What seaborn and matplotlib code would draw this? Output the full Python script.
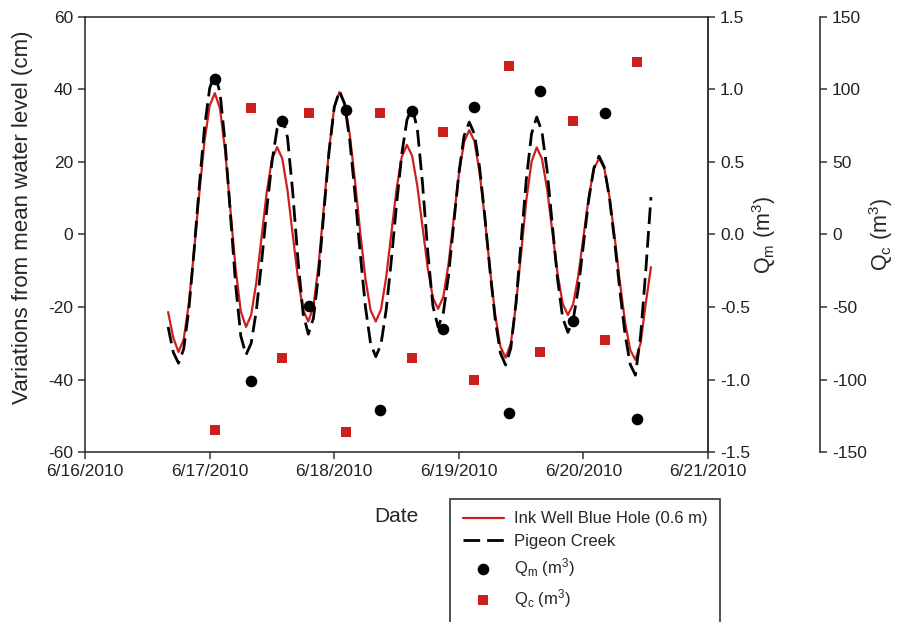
import pandas as pd
import numpy as np
import matplotlib
matplotlib.use("Agg")
import matplotlib.pyplot as plt
import matplotlib.dates as mdates
from matplotlib.ticker import FormatStrFormatter, MultipleLocator
from matplotlib.lines import Line2D
import seaborn as sns

# hourly readings, hours counted from 6/16/2010 00:00
hours = list(range(16, 110))

ink_well = [
    -21.4, -28.5, -32.4, -28.9, -19.0, -4.6, 11.2, 25.6, 35.5, 39.0,
    34.7, 22.9, 6.8, -9.4, -21.2, -25.5, -22.2, -13.1, -0.7, 11.7,
    20.8, 24.1, 20.9, 12.1, 0.0, -12.0, -20.8, -24.0, -19.8, -8.2,
    7.7, 23.5, 35.1, 39.3, 36.2, 27.4, 14.7, 0.6, -12.1, -20.9,
    -24.0, -20.7, -11.8, 0.4, 12.5, 21.4, 24.7, 21.7, 13.4, 2.1,
    -9.2, -17.5, -20.5, -17.2, -8.2, 4.2, 16.5, 25.5, 28.8, 25.7,
    17.0, 4.4, -9.6, -22.2, -30.9, -34.0, -30.1, -19.5, -5.0, 9.5,
    20.1, 24.0, 20.9, 12.5, 0.9, -10.7, -19.1, -22.2, -19.3, -11.4,
    -0.6, 10.2, 18.1, 21.0, 18.3, 10.5, -0.6, -13.0, -24.1, -31.8,
    -34.6, -30.0, -19.0, -9.0,
]

pigeon_creek = [
    -25.5, -32.5, -35.5, -31.6, -20.5, -4.5, 13.3, 29.3, 40.3, 44.3,
    39.1, 24.9, 5.6, -13.8, -28.0, -33.2, -30.0, -20.9, -7.7, 6.9,
    20.0, 29.2, 32.4, 26.7, 11.7, -6.8, -21.8, -27.5, -23.0, -10.7,
    6.1, 22.8, 35.1, 39.6, 36.0, 25.8, 11.1, -5.2, -19.9, -30.1,
    -33.7, -30.3, -20.8, -7.0, 8.3, 22.1, 31.6, 35.0, 29.2, 14.1,
    -4.6, -19.7, -25.5, -21.7, -11.4, 2.8, 16.9, 27.2, 31.0, 27.7,
    18.4, 5.0, -10.0, -23.4, -32.7, -36.0, -31.4, -18.9, -1.8, 15.3,
    27.8, 32.4, 28.4, 17.6, 2.7, -12.2, -23.0, -27.0, -23.7, -14.9,
    -2.7, 9.5, 18.3, 21.6, 18.6, 10.2, -1.9, -15.3, -27.4, -35.8,
    -38.8, -28.0, -10.0, 10.3,
]

q_times = [
    "2010-06-17 01:00", "2010-06-17 08:00", "2010-06-17 13:54", "2010-06-17 19:06",
    "2010-06-18 02:18", "2010-06-18 08:48", "2010-06-18 15:00", "2010-06-18 21:00",
    "2010-06-19 02:54", "2010-06-19 09:42", "2010-06-19 15:36", "2010-06-19 22:00",
    "2010-06-20 04:06", "2010-06-20 10:18",
]
q_m = [1.07, -1.01, 0.78, -0.49, 0.86, -1.21, 0.85, -0.65, 0.88, -1.23, 0.99, -0.60, 0.84, -1.27]
q_c = [-135, 87, -85, 84, -136, 84, -85, 71, -100, 116, -81, 78, -73, 119]

sns.set_style("ticks")
plt.rcParams["font.family"] = ["Liberation Sans", "DejaVu Sans"]
plt.rcParams["mathtext.default"] = "regular"
plt.rcParams["axes.unicode_minus"] = False

t0 = pd.Timestamp("2010-06-16")
df = pd.DataFrame({
    "time": t0 + pd.to_timedelta(hours, unit="h"),
    "ink": ink_well,
    "pigeon": pigeon_creek,
})
qdf = pd.DataFrame({"time": pd.to_datetime(q_times), "qm": q_m, "qc": q_c})

red = "#cc1f1f"
dark = "#333333"

fig = plt.figure(figsize=(8.98, 6.22), dpi=100)
ax = fig.add_axes([0.0947, 0.2733, 0.6938, 0.6994])

sns.lineplot(data=df, x="time", y="ink", color=red, lw=1.6, ax=ax,
             label="Ink Well Blue Hole (0.6 m)", legend=False)
sns.lineplot(data=df, x="time", y="pigeon", color="black", lw=2.0, ax=ax,
             label="Pigeon Creek", legend=False)
ax.lines[-1].set_dashes([6, 2.5])

ax.set_xlim(pd.Timestamp("2010-06-16"), pd.Timestamp("2010-06-21"))
ax.set_ylim(-60, 60)
ax.yaxis.set_major_locator(MultipleLocator(20))
ax.xaxis.set_major_locator(mdates.DayLocator())
ax.xaxis.set_major_formatter(mdates.DateFormatter("%-m/%-d/%Y"))
ax.set_xlabel("Date", fontsize=15, labelpad=20)
ax.set_ylabel("Variations from mean water level (cm)", fontsize=16)
ax.yaxis.set_label_coords(-0.083, 0.54)

ax2 = ax.twinx()
sns.scatterplot(data=qdf, x="time", y="qm", color="black", s=70, linewidth=0,
                marker="o", ax=ax2, label="Q$_m$ (m$^3$)", legend=False, zorder=5)
ax2.set_ylim(-1.5, 1.5)
ax2.yaxis.set_major_locator(MultipleLocator(0.5))
ax2.yaxis.set_major_formatter(FormatStrFormatter("%.1f"))
ax2.set_ylabel("Q$_m$ (m$^3$)", fontsize=15.5, labelpad=0)

ax3 = ax.twinx()
ax3.spines["right"].set_position(("axes", 1.18))
sns.scatterplot(data=qdf, x="time", y="qc", color=red, s=55, linewidth=0,
                marker="s", ax=ax3, label="Q$_c$ (m$^3$)", legend=False, zorder=5)
ax3.set_ylim(-150, 150)
ax3.yaxis.set_major_locator(MultipleLocator(50))
ax3.set_ylabel("Q$_c$ (m$^3$)", fontsize=15.5, labelpad=0)

for a in (ax, ax2, ax3):
    a.set_xlim(pd.Timestamp("2010-06-16"), pd.Timestamp("2010-06-21"))
    a.tick_params(labelsize=12.5, length=5, width=1.1, color=dark, labelcolor="#222222")
    for sp in a.spines.values():
        sp.set_color(dark)
        sp.set_linewidth(1.2)
for a in (ax2, ax3):
    for side in ("top", "left", "bottom"):
        a.spines[side].set_visible(False)
    a.set_xlabel("")

handles = [ax.lines[0], ax.lines[1], ax2.collections[0], ax3.collections[0],
           Line2D([], [], linestyle="none")]
labels = ["Ink Well Blue Hole (0.6 m)", "Pigeon Creek", "Q$_m$ (m$^3$)", "Q$_c$ (m$^3$)", " "]
leg = fig.legend(handles, labels, loc="upper left", bbox_to_anchor=(450 / 898, 1 - 499 / 622),
                 fontsize=12, frameon=True, fancybox=False, edgecolor=dark, framealpha=1,
                 handlelength=2.5, handletextpad=0.6, borderpad=0.75, labelspacing=0.45,
                 borderaxespad=0, scatterpoints=1)
leg.get_frame().set_linewidth(1.2)

fig.savefig("out.png", dpi=100)
